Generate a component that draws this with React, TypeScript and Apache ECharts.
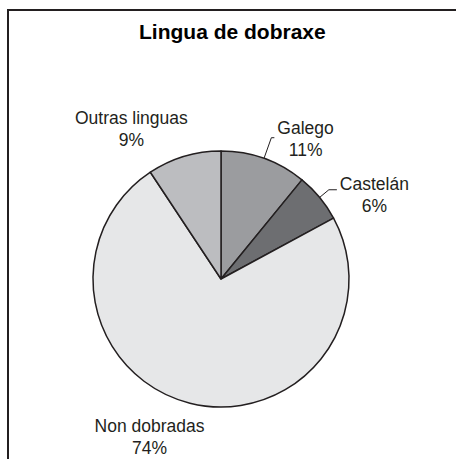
import React, { useEffect, useRef } from "react";
import * as echarts from "echarts";

const categories = ["Galego", "Castelán", "Non dobradas", "Outras linguas"];
const values = [10.9, 6.2, 73.6, 9.3];
const colors = ["#9b9c9f", "#6d6e71", "#e6e7e8", "#bcbdc0"];
const titleText = "Lingua de dobraxe";

// per-slice label line tuning (layout only)
const lineLen = [22, 12, 35, 29];
const lineLen2 = [3, 8, -26, -15];
const lineShow = [true, true, false, false];
const labelPadTop = [2, 10, 0, 0];

export default function App() {
  const ref = useRef<HTMLDivElement>(null);
  useEffect(() => {
    if (!ref.current) return;
    const chart = echarts.init(ref.current, null, { renderer: "svg" });
    const font = "'Liberation Sans', Arial, sans-serif";
    chart.setOption({
      animation: false,
      backgroundColor: "#ffffff",
      title: {
        text: titleText,
        left: 139,
        top: 21,
        padding: 0,
        textStyle: { fontFamily: font, fontSize: 21, fontWeight: "bold", color: "#000000" },
      },
      graphic: [
        {
          type: "rect",
          shape: { x: 8, y: 10, width: 700, height: 700 },
          style: { fill: "none", stroke: "#231f20", lineWidth: 2 },
          silent: true,
        },
      ],
      series: [
        {
          type: "pie",
          center: [221, 279],
          radius: 128,
          startAngle: 90,
          clockwise: true,
          avoidLabelOverlap: false,
          itemStyle: { borderColor: "#231f20", borderWidth: 1.5 },
          label: {
            show: true,
            position: "outside",
            distanceToLabelLine: 3,
            color: "#231f20",
            fontFamily: font,
            fontSize: 17.5,
            formatter: (p: any) => `{a|${p.name}}\n{a|${Math.round(p.percent)}%}`,
            rich: {
              a: { align: "center", fontFamily: font, fontSize: 17.5, lineHeight: 22, color: "#231f20" },
            },
          },
          labelLine: { show: true, lineStyle: { color: "#231f20", width: 1 } },
          emphasis: { disabled: true },
          data: categories.map((name, i) => ({
            name,
            value: values[i],
            itemStyle: { color: colors[i] },
            label: { padding: [labelPadTop[i], 0, 0, 0] },
            labelLine: { show: lineShow[i], length: lineLen[i], length2: lineLen2[i] },
          })),
        },
      ],
    });
    return () => chart.dispose();
  }, []);
  return (
    <div
      ref={ref}
      style={{ position: "absolute", left: 0, top: 0, width: 456, height: 459 }}
    />
  );
}
